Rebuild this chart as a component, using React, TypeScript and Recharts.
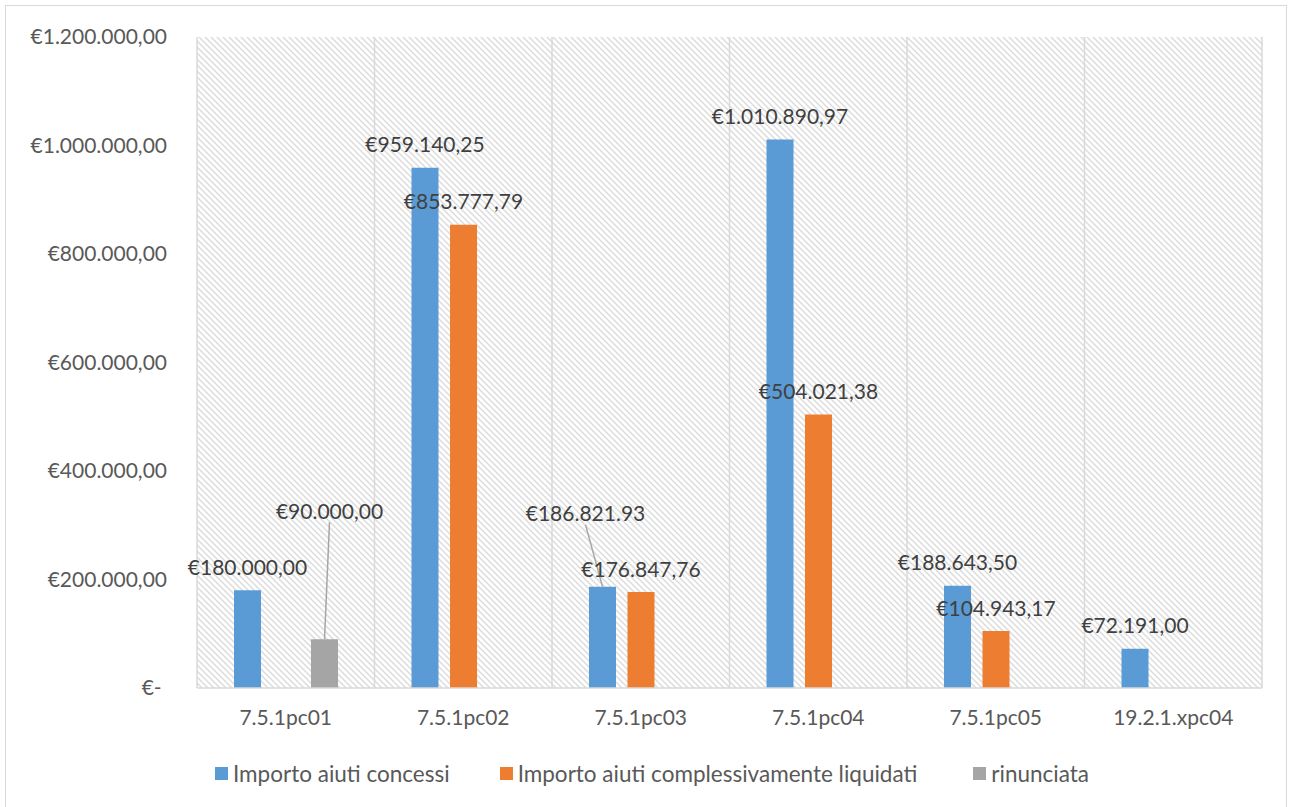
import { BarChart, Bar, XAxis, YAxis, CartesianGrid, Legend, LabelList } from 'recharts';

const categories = ['7.5.1pc01', '7.5.1pc02', '7.5.1pc03', '7.5.1pc04', '7.5.1pc05', '19.2.1.xpc04'];
const concessi = [180000, 959140.25, 186821.93, 1010890.97, 188643.5, 72191];
const liquidati = [null, 853777.79, 176847.76, 504021.38, 104943.17, null];
const rinunciata = [90000, null, null, null, null, null];
const yTicks = [0, 200000, 400000, 600000, 800000, 1000000, 1200000];

// the source sheet shows one label with a dot instead of the comma
const labelOverride: Record<string, string> = { 'concessi|7.5.1pc03': '€186.821.93' };
// labels that were dragged away from their bar (with a leader line)
const labelMoved: Record<string, { dx: number; dy: number }> = {
  'rinunciata|7.5.1pc01': { dx: 5, dy: -105 },
  'concessi|7.5.1pc03': { dx: -17, dy: -50 },
};

const data = categories.map((c, i) => ({
  name: c,
  concessi: concessi[i],
  liquidati: liquidati[i],
  rinunciata: rinunciata[i],
}));

const series = [
  { key: 'concessi', name: 'Importo aiuti concessi', color: '#5B9BD5' },
  { key: 'liquidati', name: 'Importo aiuti complessivamente liquidati', color: '#ED7D31' },
  { key: 'rinunciata', name: 'rinunciata', color: '#A5A5A5' },
];
const legendGaps = [50, 56, 0];

const TEXT = '#595959';
const GRID = '#d9d9d9';

function euro(v: number) {
  if (!v) return '€-\u00A0';
  const [i, d] = v.toFixed(2).split('.');
  return '€' + i.replace(/\B(?=(\d{3})+(?!\d))/g, '.') + ',' + d;
}

function renderLabel(p: any, key: string) {
  const { value, index } = p;
  if (value == null || value === 0) return null;
  const vb = p.viewBox || p;
  const x = vb.x ?? p.x;
  const y = vb.y ?? p.y;
  const w = vb.width ?? p.width;
  const cat = categories[index];
  const id = key + '|' + cat;
  const text = labelOverride[id] ?? euro(value);
  const mv = labelMoved[id];
  const bx = x + w / 2;
  const cx = bx + (mv ? mv.dx : 0);
  const cy = y - 24 + (mv ? mv.dy : 0);
  return (
    <g key={id}>
      {mv && <line x1={bx} y1={y} x2={cx} y2={cy + 12} stroke="#a6a6a6" strokeWidth={1.5} />}
      <text x={cx} y={cy} textAnchor="middle" dominantBaseline="central" fill="#404040" fontSize={21}>
        {text}
      </text>
    </g>
  );
}

function LegendContent() {
  return (
    <div style={{ height: 30, display: 'flex', justifyContent: 'center', alignItems: 'center', paddingLeft: 36 }}>
      {series.map((s, i) => (
        <div key={s.key} style={{ display: 'flex', alignItems: 'center', marginRight: legendGaps[i] }}>
          <span style={{ width: 13, height: 13, background: s.color, marginRight: 5, display: 'inline-block' }} />
          <span style={{ color: TEXT, fontSize: 22.5 }}>{s.name}</span>
        </div>
      ))}
    </div>
  );
}

export default function App() {
  return (
    <div
      style={{
        position: 'absolute',
        left: 5,
        top: 5,
        width: 1280,
        height: 810,
        border: `1px solid ${GRID}`,
        fontFamily: 'Lato, sans-serif',
        background: '#fff',
      }}
    >
      <BarChart
        width={1278}
        height={795}
        data={data}
        margin={{ top: 31, right: 22, left: 0, bottom: 13 }}
        barSize={27}
        barGap={11.5}
      >
        <defs>
          <pattern id="hatch" patternUnits="userSpaceOnUse" width="6" height="6">
            <rect width="6" height="6" fill="#ffffff" />
            <path d="M-1,-1 L7,7 M-1,5 L1,7 M5,-1 L7,1" stroke="#dcdcdc" strokeWidth={1.5} />
          </pattern>
        </defs>
        <CartesianGrid
          horizontal={false}
          fill="url(#hatch)"
          fillOpacity={1}
          stroke={GRID}
          strokeWidth={1.5}
          verticalCoordinatesGenerator={({ offset }: any) =>
            Array.from({ length: categories.length + 1 }, (_, i) => offset.left + (offset.width * i) / categories.length)
          }
        />
        <XAxis
          dataKey="name"
          height={70}
          tickLine={false}
          tickSize={0}
          tickMargin={22}
          axisLine={{ stroke: GRID, strokeWidth: 1.5 }}
          tick={{ fill: TEXT, fontSize: 21 }}
        />
        <YAxis
          width={191}
          domain={[0, 1200000]}
          ticks={yTicks}
          interval={0}
          tickFormatter={euro}
          axisLine={false}
          tickLine={false}
          tickSize={0}
          tickMargin={30}
          tick={{ fill: TEXT, fontSize: 21 }}
        />
        <Legend verticalAlign="bottom" content={<LegendContent />} />
        {series.map((s) => (
          <Bar key={s.key} dataKey={s.key} name={s.name} fill={s.color} isAnimationActive={false}>
            <LabelList dataKey={s.key} content={(p: any) => renderLabel(p, s.key)} />
          </Bar>
        ))}
      </BarChart>
    </div>
  );
}
